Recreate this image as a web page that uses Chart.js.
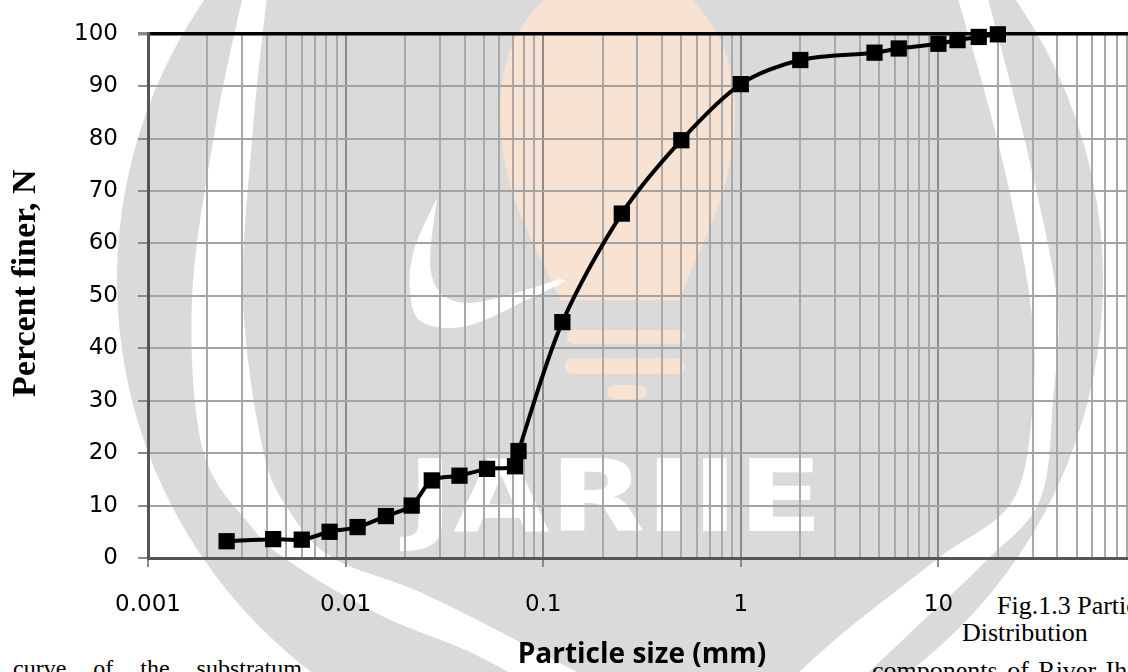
<!DOCTYPE html>
<html>
<head>
<meta charset="utf-8">
<script src="https://cdn.jsdelivr.net/npm/chart.js@4.4.1/dist/chart.umd.min.js"></script>
<style>
  html, body { margin: 0; padding: 0; width: 1128px; height: 672px; overflow: hidden; background: #ffffff; }
  #bg { position: absolute; left: 0; top: 0; }
  #wrap { position: absolute; left: 0; top: 0; width: 1160px; height: 672px; }
</style>
</head>
<body>
<svg id="bg" width="1128" height="672" viewBox="0 0 1128 672" xmlns="http://www.w3.org/2000/svg">
  <circle cx="610" cy="280" r="493" fill="#dadada"/>
  <path id="bandL" fill="#ffffff"/>
  <path id="bandR" fill="#ffffff"/>
  <path d="M560,300 C540,250 500,200 500,110 C500,20 560,-30 617,-30 C675,-30 735,20 735,110 C735,200 695,250 680,300 Z" fill="#fbe3d2" opacity="0.9"/>
  <rect x="567" y="330" width="118" height="14" rx="7" fill="#fbe3d2" opacity="0.9"/>
  <rect x="565" y="358" width="120" height="16" rx="8" fill="#fbe3d2" opacity="0.9"/>
  <rect x="607" y="385" width="40" height="14" rx="7" fill="#fbe3d2" opacity="0.9"/>
  <path id="swoosh" fill="#ffffff"/>
  <text x="407" y="531" font-family="DejaVu Sans" font-weight="bold" font-size="100" fill="#ffffff" textLength="416" lengthAdjust="spacingAndGlyphs">JARIIE</text>
  <text x="13" y="676" font-family="Liberation Serif" font-size="24" fill="#000" word-spacing="21">curve of the substratum</text>
  <text x="997" y="614" font-family="Liberation Serif" font-size="26" fill="#000">Fig.1.3 Particle Size</text>
  <text x="962" y="641" font-family="Liberation Serif" font-size="26" fill="#000">Distribution</text>
  <text x="872" y="679" font-family="Liberation Serif" font-size="26" fill="#000" word-spacing="3">components of River Ihiala</text>
</svg>
<div id="wrap"><canvas id="c"></canvas></div>
<script>
// ---- data ----
const particleSize = [0.0025, 0.0043, 0.006, 0.0083, 0.0115, 0.016, 0.0216, 0.0273, 0.0377, 0.052, 0.072, 0.075,
                      0.125, 0.25, 0.5, 1, 2, 4.75, 6.3, 10, 12.5, 16, 20];
const percentFiner = [3.2, 3.6, 3.5, 5.0, 5.9, 8.0, 10.0, 14.8, 15.7, 17.0, 17.5, 20.4,
                      45.0, 65.7, 79.7, 90.4, 95.0, 96.4, 97.2, 98.1, 98.8, 99.4, 99.9];
const xTickLabels = ['0.001', '0.01', '0.1', '1', '10'];
const xDecadeExponents = [-3, -2, -1, 0, 1];
const xMin = 0.001, xMax = 100;
const yMin = 0, yMax = 100, yStep = 10;

// ---- watermark decoration (background only) ----
function smooth(pts) {
  let d = '';
  for (let i = 0; i < pts.length - 1; i++) {
    const p0 = pts[i - 1] || pts[i], p1 = pts[i], p2 = pts[i + 1], p3 = pts[i + 2] || p2;
    const c1 = [p1[0] + (p2[0] - p0[0]) / 6, p1[1] + (p2[1] - p0[1]) / 6];
    const c2 = [p2[0] - (p3[0] - p1[0]) / 6, p2[1] - (p3[1] - p1[1]) / 6];
    d += ` C${c1[0]},${c1[1]} ${c2[0]},${c2[1]} ${p2[0]},${p2[1]}`;
  }
  return d;
}
function band(outer, inner) {
  return `M${outer[0][0]},${outer[0][1]}` + smooth(outer) + ` L${inner[0][0]},${inner[0][1]}` + smooth(inner) + ' Z';
}
document.getElementById('bandL').setAttribute('d', band(
  [[243,-5],[215,130],[192,300],[203,450],[250,525],[290,562],[380,615],[470,652],[540,690]],
  [[610,690],[520,642],[420,592],[333,558],[290,512],[263,450],[243,300],[252,140],[267,-5]]));
document.getElementById('bandR').setAttribute('d', band(
  [[987,-5],[1027,150],[1057,300],[1053,400],[1040,500],[987,560],[910,633],[850,690]],
  [[780,690],[843,633],[940,557],[1013,500],[1033,400],[1030,300],[1000,150],[957,-5]]));
document.getElementById('swoosh').setAttribute('d', band(
  [[437,198],[414,250],[410,293],[422,322],[467,326],[533,297],[566,281]],
  [[560,279],[505,296],[465,303],[440,292],[430,262],[437,198]]));

// ---- chart ----
const gridValues = [];
xDecadeExponents.forEach(e => {
  for (let m = 1; m <= 9; m++) gridValues.push(Number((m * Math.pow(10, e)).toPrecision(6)));
});
gridValues.push(xMax);
const isDecade = v => Math.abs(Math.log10(v) - Math.round(Math.log10(v))) < 1e-9;

new Chart(document.getElementById('c'), {
  type: 'scatter',
  data: {
    datasets: [{
      data: particleSize.map((x, i) => ({ x: x, y: percentFiner[i] })),
      showLine: true,
      tension: 0.3,
      borderColor: '#000000',
      borderWidth: 4,
      pointStyle: 'rect',
      pointRadius: 11.5,
      pointHoverRadius: 11.5,
      pointBackgroundColor: '#000000',
      pointBorderWidth: 0,
      clip: false
    }]
  },
  options: {
    responsive: true,
    maintainAspectRatio: false,
    animation: false,
    events: [],
    layout: { padding: { top: 27, right: 24, bottom: 0, left: 0 } },
    plugins: { legend: { display: false }, tooltip: { enabled: false } },
    scales: {
      x: {
        type: 'logarithmic',
        min: xMin,
        max: xMax,
        afterBuildTicks: s => { s.ticks = gridValues.map(v => ({ value: v })); },
        afterFit: s => { s.height = 114; },
        ticks: {
          autoSkip: false,
          maxRotation: 0,
          minRotation: 0,
          padding: 24,
          color: '#000000',
          font: { family: 'DejaVu Sans', size: 23 },
          callback: v => {
            const idx = xTickLabels.findIndex(l => Math.abs(Math.log10(parseFloat(l)) - Math.log10(v)) < 1e-6);
            return idx >= 0 ? xTickLabels[idx] : '';
          }
        },
        grid: {
          color: c => (c.tick && isDecade(c.tick.value)) ? '#8a8a8a' : '#a9a9a9',
          lineWidth: 2,
          tickLength: 9,
          tickColor: c => (c.tick && isDecade(c.tick.value)) ? '#8a8a8a' : 'rgba(0,0,0,0)'
        },
        border: { color: '#555555', width: 3 },
        title: {
          display: true,
          text: 'Particle size (mm)',
          color: '#000000',
          font: { family: 'Open Sans', weight: 'bold', size: 28 },
          padding: { top: 0, bottom: 0 }
        }
      },
      y: {
        min: yMin,
        max: yMax,
        afterFit: s => { s.width = 148; },
        ticks: {
          stepSize: yStep,
          padding: 20,
          color: '#000000',
          font: { family: 'DejaVu Sans', size: 23 }
        },
        grid: {
          color: c => (c.tick && c.tick.value === yMax) ? '#000000' : '#a3a3a3',
          lineWidth: c => (c.tick && c.tick.value === yMax) ? 3.5 : 2,
          tickLength: 10,
          tickColor: '#8a8a8a'
        },
        border: { color: '#555555', width: 3 },
        title: {
          display: true,
          text: '\u00a0\u00a0\u00a0Percent finer, N',
          color: '#000000',
          font: { family: 'Liberation Serif', weight: 'bold', size: 34 },
          padding: { top: 6, bottom: 0 }
        }
      }
    }
  }
});
</script>
</body>
</html>
